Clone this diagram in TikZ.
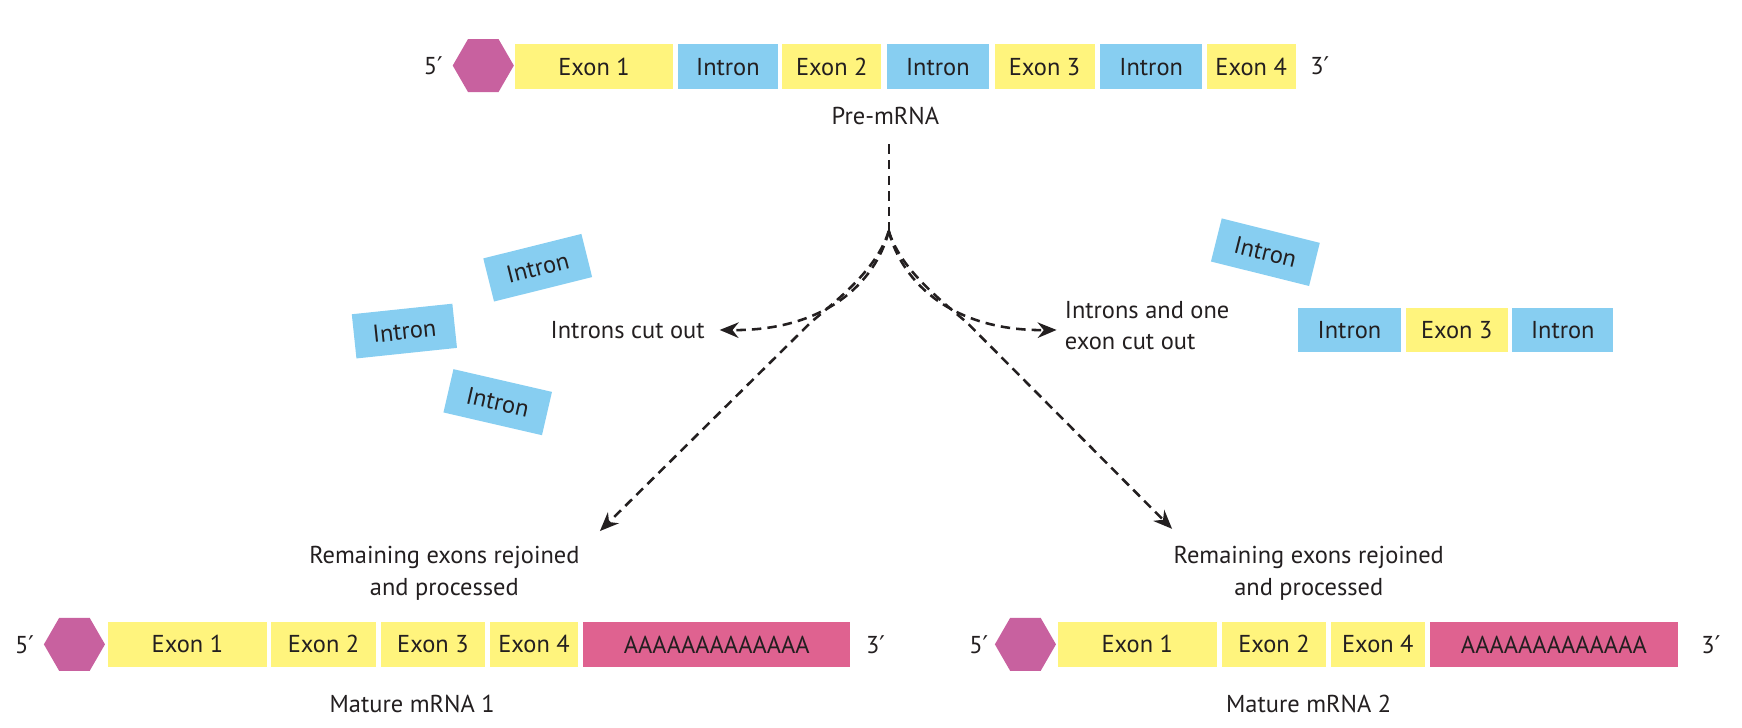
\documentclass[tikz,border=0pt]{standalone}
\usepackage{fontspec}
\setmainfont{PT Sans}
\newfontfamily\primefont{DejaVu Sans}
\usetikzlibrary{arrows.meta,shapes.geometric}
\definecolor{exonY}{HTML}{FFF47D}
\definecolor{intronB}{HTML}{87CEF1}
\definecolor{capM}{HTML}{C8619F}
\definecolor{polyA}{HTML}{DF6290}
\definecolor{ink}{HTML}{231F20}
\newcommand\myprime{{\primefont\char"2032}}
\begin{document}
\begin{tikzpicture}[x=1pt,y=-1pt, font=\fontsize{22}{28}\selectfont, text=ink,
 seg/.style={minimum height=40pt, inner sep=0pt, anchor=west},
 exon/.style={seg, fill=exonY},
 intron/.style={seg, fill=intronB},
 tail/.style={seg, fill=polyA},
 capshape/.style={regular polygon, regular polygon sides=6, fill=capM, minimum size=55pt, inner sep=0pt},
 loose/.style={fill=intronB, minimum width=91pt, minimum height=40pt, inner sep=0pt},
 dline/.style={draw=ink, line width=2.3pt, dash pattern=on 8.5pt off 5.5pt},
 flow/.style={dline, -{Stealth[length=17pt,width=14pt,inset=5.5pt]}},
 lbl/.style={align=center}]
\useasboundingbox (0,0) rectangle (1568,655);

% ---------- Pre-mRNA ----------
\node (p5) at (390,59) {5\myprime};
\node[capshape] (pcap) at (435,59) {};
\node[exon, minimum width=143pt] (pe1) at (463,60) {Exon 1};
\node[intron, minimum width=90pt] (pi1) at (610,60) {Intron};
\node[exon, minimum width=89pt] (pe2) at (704,60) {Exon 2};
\node[intron, minimum width=92pt] (pi2) at (798,60) {Intron};
\node[exon, minimum width=90pt] (pe3) at (895,60) {Exon 3};
\node[intron, minimum width=92pt] (pi3) at (990,60) {Intron};
\node[exon, minimum width=80pt] (pe4) at (1086,60) {Exon 4};
\node (p3) at (1188,59) {3\myprime};
\node (pre) at (797,104) {Pre-mRNA};

% ---------- cut out pieces ----------
\node[loose, rotate=14] (li1) at (484,241) {Intron};
\node[loose, rotate=6] (li2) at (364,298) {Intron};
\node[loose, rotate=-13] (li3) at (448,362) {Intron};
\node[loose, rotate=-14] (ri1) at (1139,227) {Intron};
\node[intron, minimum width=93pt] (ri2) at (1168,297) {Intron};
\node[exon, minimum width=92pt] (ri3) at (1265,297) {Exon 3};
\node[intron, minimum width=91pt] (ri4) at (1361,297) {Intron};

\node (cutL) at (565,297) {Introns cut out};
\node[align=left, anchor=west] (cutR) at (955,293) {Introns and one\\exon cut out};

% ---------- connectors ----------
\coordinate (t) at (800,130);
\coordinate (j) at (800,208);
\coordinate (endL) at (540,478);
\coordinate (endR) at (1055,476);
\draw[dline] (t) -- (j);
\draw[flow] (j) .. controls (788,255) and (742,298) .. ([xshift=10pt]cutL.east);
\draw[flow] (j) .. controls (812,255) and (858,298) .. ([xshift=-4pt]cutR.west |- cutL.east);
\draw[flow] (j) .. controls (790,240) and (760,265) .. (730,290) -- (endL);
\draw[flow] (j) .. controls (810,240) and (840,265) .. (870,290) -- (endR);

% ---------- Mature mRNA 1 ----------
\node[lbl] (rem1) at (400,516) {Remaining exons rejoined\\and processed};
\node (a5) at (22,580) {5\myprime};
\node[capshape] (acap) at (67,580) {};
\node[exon, minimum width=143pt] (ae1) at (97,580) {Exon 1};
\node[exon, minimum width=94pt] (ae2) at (244,580) {Exon 2};
\node[exon, minimum width=93pt] (ae3) at (343,580) {Exon 3};
\node[exon, minimum width=79pt] (ae4) at (441,580) {Exon 4};
\node[tail, minimum width=240pt] (aA) at (525,580) {AAAAAAAAAAAAA};
\node (a3) at (788,580) {3\myprime};
\node (m1) at (371,634) {Mature mRNA 1};

% ---------- Mature mRNA 2 ----------
\node[lbl] (rem2) at (1178,516) {Remaining exons rejoined\\and processed};
\node (b5) at (881,580) {5\myprime};
\node[capshape] (bcap) at (923,580) {};
\node[exon, minimum width=143pt] (be1) at (952,580) {Exon 1};
\node[exon, minimum width=93pt] (be2) at (1100,580) {Exon 2};
\node[exon, minimum width=84pt] (be4) at (1198,580) {Exon 4};
\node[tail, minimum width=223pt] (bA) at (1287,580) {AAAAAAAAAAAAA};
\node (b3) at (1540,580) {3\myprime};
\node (m2) at (1178,634) {Mature mRNA 2};
\end{tikzpicture}
\end{document}
